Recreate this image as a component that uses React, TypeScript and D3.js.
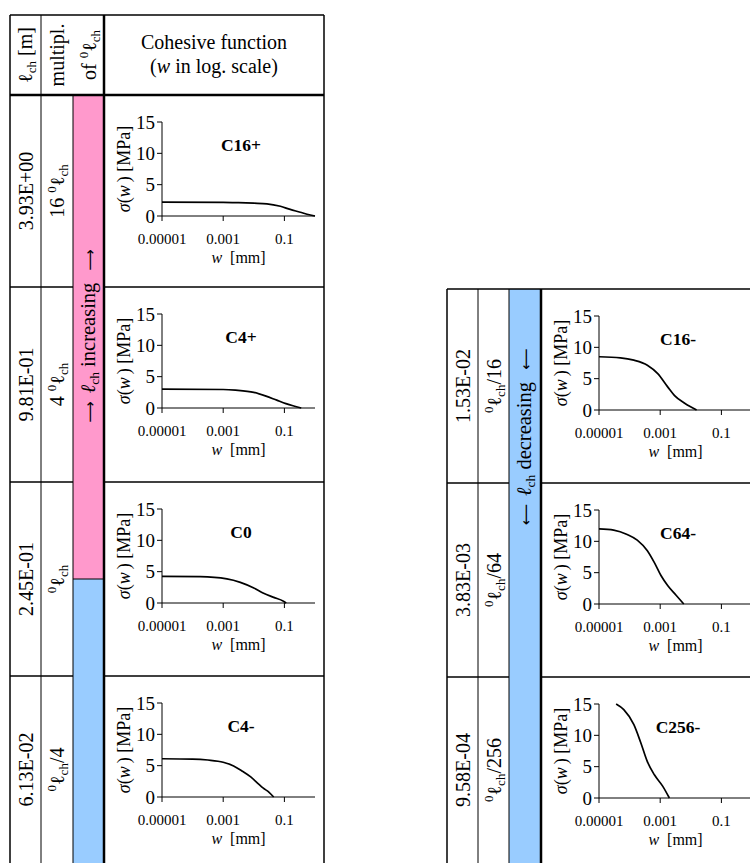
import React from "react";
import * as d3 from "d3";

// Characteristic length of each specimen [m]
const charLengths = ["3.93E+00", "9.81E-01", "2.45E-01", "6.13E-02", "1.53E-02", "3.83E-03", "9.58E-04"];
// Multiple of the reference length: prefix factor / suffix divisor
const multPrefix = ["16 ", "4 ", "", "", "", "", ""];
const multSuffix = ["", "", "", "/4", "/16", "/64", "/256"];
// Cohesive law names
const curveNames = ["C16+", "C4+", "C0", "C4-", "C16-", "C64-", "C256-"];

// Cohesive functions: log10 of crack opening w [mm] and stress sigma [MPa]
const logW_C16p = [-5, -3, -2.5, -2, -1.57, -1.13, -0.81, -0.48, -0.26, 0];
const sig_C16p = [2.2, 2.18, 2.13, 2.05, 1.95, 1.55, 1.05, 0.6, 0.28, 0];
const logW_C4p = [-5, -3, -2.6, -2.0, -1.6, -1.25, -0.95, -0.72, -0.45];
const sig_C4p = [3.0, 2.95, 2.85, 2.5, 1.9, 1.25, 0.7, 0.35, 0];
const logW_C0 = [-5, -3.75, -2.88, -2.44, -2.0, -1.68, -1.35, -1.03, -0.94];
const sig_C0 = [4.25, 4.2, 3.85, 3.3, 2.4, 1.55, 0.9, 0.28, 0];
const logW_C4m = [-5, -4, -3.5, -3, -2.66, -2.4, -2.1, -1.85, -1.7, -1.5, -1.35];
const sig_C4m = [6.1, 6.05, 5.9, 5.55, 4.95, 4.2, 3.2, 2.1, 1.45, 0.75, 0];
const logW_C16m = [-5, -4.3, -3.86, -3.42, -3.08, -2.75, -2.53, -2.2, -1.81];
const sig_C16m = [8.5, 8.33, 7.95, 7.15, 5.8, 3.65, 2.3, 1.07, 0];
const logW_C64m = [-5, -4.52, -4.08, -3.75, -3.42, -3.19, -2.97, -2.75, -2.48, -2.23];
const sig_C64m = [12.0, 11.8, 11.1, 10.2, 8.5, 6.6, 4.5, 2.9, 1.4, 0];
const logW_C256m = [-4.44, -4.19, -3.86, -3.64, -3.42, -3.19, -2.92, -2.7];
const sig_C256m = [15, 14.1, 11.7, 8.9, 5.8, 3.7, 1.9, 0];

const curveLogW = [logW_C16p, logW_C4p, logW_C0, logW_C4m, logW_C16m, logW_C64m, logW_C256m];
const curveSig = [sig_C16p, sig_C4p, sig_C0, sig_C4m, sig_C16m, sig_C64m, sig_C256m];

// Axis ticks
const xTickValues = [1e-5, 1e-3, 1e-1];
const xTickLabels = ["0.00001", "0.001", "0.1"];
const yTickValues = [0, 5, 10, 15];

const SERIF = "'Liberation Serif', 'Times New Roman', Times, serif";
const ARROW_FONT = "'DejaVu Sans', sans-serif";
const PINK = "#FF99CC";
const BLUE = "#99CCFF";

// Table layout
const L = { x: [10, 41, 73, 104, 324], top: 15, head: 95, rows: [95, 287, 482, 676], bottom: 863, split: 579 };
const R = { x: [447, 478, 509, 541, 761], top: 289, rows: [289, 483, 677], bottom: 863 };

function Panel({ left, top, i }: { left: number; top: number; i: number }) {
  const ax = left + 58;
  const x = d3.scaleLog().domain([1e-5, 1]).range([ax, ax + 153]);
  const y = d3.scaleLinear().domain([0, 15]).range([top + 121, top + 27]);
  const pts = curveLogW[i].map((lw, k) => [Math.pow(10, lw), curveSig[i][k]] as [number, number]);
  const line = d3
    .line<[number, number]>()
    .x((d) => x(d[0]))
    .y((d) => y(d[1]))
    .curve(d3.curveMonotoneX);
  const [y0, y1] = y.range();
  const [x0, x1] = x.range();
  return (
    <g fontFamily={SERIF}>
      {/* y axis */}
      <line x1={x0} x2={x0} y1={y0} y2={y1} stroke="#000" strokeWidth={1} />
      {yTickValues.map((v) => (
        <g key={v}>
          <line x1={x0 - 5} x2={x0} y1={y(v)} y2={y(v)} stroke="#000" />
          <text x={x0 - 7} y={y(v)} dy="0.35em" textAnchor="end" fontSize={19}>
            {v}
          </text>
        </g>
      ))}
      {/* x axis */}
      <line x1={x0} x2={x1} y1={y0} y2={y0} stroke="#000" strokeWidth={1} />
      {xTickValues.map((v, k) => (
        <g key={v}>
          <line x1={x(v)} x2={x(v)} y1={y0} y2={y0 + 5} stroke="#000" />
          <text x={x(v)} y={y0 + 28} textAnchor="middle" fontSize={15}>
            {xTickLabels[k]}
          </text>
        </g>
      ))}
      <text x={(x0 + x1) / 2} y={y0 + 47} textAnchor="middle" fontSize={16}>
        <tspan fontStyle="italic">w</tspan>
        <tspan dx={8}>[mm]</tspan>
      </text>
      <text
        transform={`translate(${x0 - 32},${(y0 + y1) / 2}) rotate(-90)`}
        textAnchor="middle"
        fontSize={18}
      >
        <tspan fontStyle="italic">σ</tspan>
        <tspan>(</tspan>
        <tspan fontStyle="italic">w</tspan>
        <tspan dx={3}>) [MPa]</tspan>
      </text>
      <text x={x0 + 79} y={y1 + 29} textAnchor="middle" fontSize={17.5} fontWeight="bold">
        {curveNames[i]}
      </text>
      <path d={line(pts) || ""} fill="none" stroke="#000" strokeWidth={1.7} />
    </g>
  );
}

function MultText({ i, cx, cy }: { i: number; cx: number; cy: number }) {
  return (
    <text transform={`translate(${cx},${cy}) rotate(-90)`} textAnchor="middle" fontSize={20}>
      {multPrefix[i] && <tspan>{multPrefix[i]}</tspan>}
      <tspan fontSize={13} dy={-8}>0</tspan>
      <tspan dy={8}>ℓ</tspan>
      <tspan fontSize={13} dy={4}>ch</tspan>
      {multSuffix[i] && <tspan dy={-4}>{multSuffix[i]}</tspan>}
    </text>
  );
}

// Vertical trend label inside a coloured column
function TrendText({ cx, cy, word, arrow }: { cx: number; cy: number; word: string; arrow: string }) {
  return (
    <text transform={`translate(${cx},${cy}) rotate(-90)`} textAnchor="middle" fontSize={20.5}>
      <tspan fontFamily={ARROW_FONT} fontSize={15}>{arrow}</tspan>
      <tspan dx={8} fontStyle="italic">ℓ</tspan>
      <tspan fontSize={13.5} dy={4}>ch</tspan>
      <tspan dy={-4}> {word}</tspan>
      <tspan dx={12} fontFamily={ARROW_FONT} fontSize={15}>{arrow}</tspan>
    </text>
  );
}

export default function App() {
  const leftRows = L.rows.map((t, k) => ({ top: t, bot: k < L.rows.length - 1 ? L.rows[k + 1] : L.bottom }));
  const rightRows = R.rows.map((t, k) => ({ top: t, bot: k < R.rows.length - 1 ? R.rows[k + 1] : R.bottom }));
  return (
    <svg
      width={750}
      height={863}
      style={{ position: "absolute", left: 0, top: 0, background: "#fff" }}
      fontFamily={SERIF}
    >
      <rect width={750} height={863} fill="#fff" />

      {/* ---------- left table ---------- */}
      <rect x={L.x[2]} y={L.head} width={L.x[3] - L.x[2]} height={L.split - L.head} fill={PINK} />
      <rect x={L.x[2]} y={L.split} width={L.x[3] - L.x[2]} height={L.bottom - L.split} fill={BLUE} />
      <line x1={L.x[2]} x2={L.x[3]} y1={L.split} y2={L.split} stroke="#000" strokeWidth={1} />

      {/* header */}
      <text transform={`translate(${L.x[0] + 22},55) rotate(-90)`} textAnchor="middle" fontSize={20}>
        <tspan>ℓ</tspan>
        <tspan fontSize={13} dy={4}>ch</tspan>
        <tspan dy={-4}> [m]</tspan>
      </text>
      <text transform={`translate(${L.x[1] + 23},55) rotate(-90)`} textAnchor="middle" fontSize={20}>
        multipl.
      </text>
      <text transform={`translate(${L.x[1] + 55},55) rotate(-90)`} textAnchor="middle" fontSize={20}>
        <tspan>of </tspan>
        <tspan fontSize={13} dy={-8}>0</tspan>
        <tspan dy={8}>ℓ</tspan>
        <tspan fontSize={13} dy={4}>ch</tspan>
      </text>
      <text x={(L.x[3] + L.x[4]) / 2} y={49} textAnchor="middle" fontSize={20}>
        Cohesive function
      </text>
      <text x={(L.x[3] + L.x[4]) / 2} y={73} textAnchor="middle" fontSize={20}>
        <tspan>(</tspan>
        <tspan fontStyle="italic">w</tspan>
        <tspan dx={5}>in log. scale)</tspan>
      </text>

      {leftRows.map((r, k) => (
        <g key={k}>
          <text
            transform={`translate(${L.x[0] + 23},${(r.top + r.bot) / 2}) rotate(-90)`}
            textAnchor="middle"
            fontSize={20}
          >
            {charLengths[k]}
          </text>
          <MultText i={k} cx={L.x[1] + 23} cy={(r.top + r.bot) / 2} />
          <Panel left={L.x[3]} top={r.top} i={k} />
        </g>
      ))}

      <TrendText cx={L.x[2] + 22} cy={336} word="increasing" arrow="⟶" />

      {/* grid lines */}
      <g stroke="#000" fill="none">
        <line x1={L.x[0]} x2={L.x[4]} y1={L.top} y2={L.top} strokeWidth={1.5} />
        <line x1={L.x[0]} x2={L.x[4]} y1={L.head} y2={L.head} strokeWidth={2.5} />
        <line x1={L.x[0]} x2={L.x[0]} y1={L.top} y2={L.bottom} strokeWidth={1.5} />
        <line x1={L.x[1]} x2={L.x[1]} y1={L.top} y2={L.bottom} strokeWidth={1} />
        <line x1={L.x[2]} x2={L.x[2]} y1={L.head} y2={L.bottom} strokeWidth={1} />
        <line x1={L.x[3]} x2={L.x[3]} y1={L.top} y2={L.bottom} strokeWidth={2.5} />
        <line x1={L.x[4]} x2={L.x[4]} y1={L.top} y2={L.bottom} strokeWidth={1.5} />
        {L.rows.slice(1).map((t) => (
          <g key={t}>
            <line x1={L.x[0]} x2={L.x[2]} y1={t} y2={t} strokeWidth={1.5} />
            <line x1={L.x[3]} x2={L.x[4]} y1={t} y2={t} strokeWidth={1.5} />
          </g>
        ))}
      </g>

      {/* ---------- right table ---------- */}
      <rect x={R.x[2]} y={R.top} width={R.x[3] - R.x[2]} height={R.bottom - R.top} fill={BLUE} />
      {rightRows.map((r, k) => (
        <g key={k}>
          <text
            transform={`translate(${R.x[0] + 23},${(r.top + r.bot) / 2}) rotate(-90)`}
            textAnchor="middle"
            fontSize={20}
          >
            {charLengths[k + 4]}
          </text>
          <MultText i={k + 4} cx={R.x[1] + 23} cy={(r.top + r.bot) / 2} />
          <Panel left={R.x[3]} top={r.top} i={k + 4} />
        </g>
      ))}
      <TrendText cx={R.x[2] + 22} cy={437} word="decreasing" arrow="⟵" />
      <g stroke="#000" fill="none">
        <line x1={R.x[0]} x2={R.x[4]} y1={R.top} y2={R.top} strokeWidth={1.5} />
        <line x1={R.x[0]} x2={R.x[0]} y1={R.top} y2={R.bottom} strokeWidth={1.5} />
        <line x1={R.x[1]} x2={R.x[1]} y1={R.top} y2={R.bottom} strokeWidth={1} />
        <line x1={R.x[2]} x2={R.x[2]} y1={R.top} y2={R.bottom} strokeWidth={1} />
        <line x1={R.x[3]} x2={R.x[3]} y1={R.top} y2={R.bottom} strokeWidth={2.5} />
        {R.rows.slice(1).map((t) => (
          <g key={t}>
            <line x1={R.x[0]} x2={R.x[2]} y1={t} y2={t} strokeWidth={1.5} />
            <line x1={R.x[3]} x2={R.x[4]} y1={t} y2={t} strokeWidth={1.5} />
          </g>
        ))}
      </g>
    </svg>
  );
}
